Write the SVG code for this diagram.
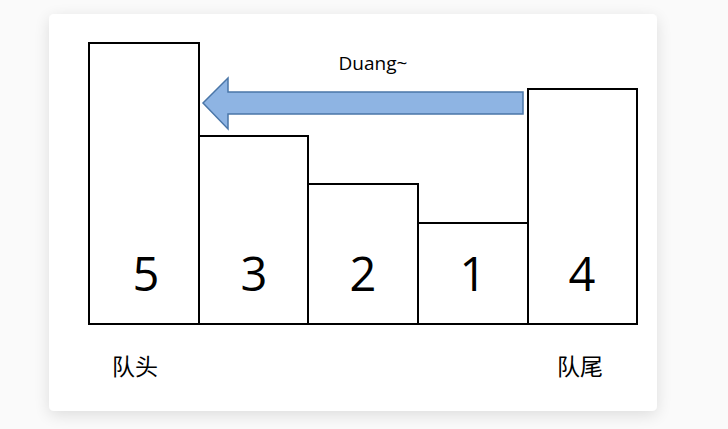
<svg xmlns="http://www.w3.org/2000/svg" width="728" height="429" viewBox="0 0 728 429">
<defs>
<filter id="sh" x="-10%" y="-10%" width="120%" height="125%">
<feGaussianBlur in="SourceAlpha" stdDeviation="8"/>
<feOffset dy="4"/>
<feComponentTransfer><feFuncA type="linear" slope="0.12"/></feComponentTransfer>
<feMerge><feMergeNode/><feMergeNode in="SourceGraphic"/></feMerge>
</filter>
<style>
.bar{fill:#fff;stroke:#000;stroke-width:2}
.num{font-family:"Open Sans","Liberation Sans",sans-serif;font-size:47px;text-anchor:middle;fill:#000}
.lbl{font-family:"Noto Sans CJK SC",sans-serif;font-size:23px;fill:#000}
</style>
</defs>
<rect width="728" height="429" fill="#fafafa"/>
<rect x="49" y="14" width="608" height="397" rx="5" fill="#fff" filter="url(#sh)"/>
<g id="bar5"><rect class="bar" x="89" y="43" width="110" height="281"/><text class="num" x="146" y="291">5</text></g>
<g id="bar3"><rect class="bar" x="199" y="136" width="109" height="188"/><text class="num" x="254" y="291">3</text></g>
<g id="bar2"><rect class="bar" x="308" y="184" width="110" height="140"/><text class="num" x="363" y="291">2</text></g>
<g id="bar1"><rect class="bar" x="418" y="223" width="110" height="101"/><text class="num" x="473" y="291">1</text></g>
<g id="bar4"><rect class="bar" x="528" y="89" width="109" height="235"/><text class="num" x="582" y="291">4</text></g>
<g id="connectors">
<polygon points="523,92 228,92 228,78 203,103 228,129 228,114 523,114" fill="#8EB4E3" stroke="#4A76A8" stroke-width="1.5"/>
<text x="373" y="70" font-family="Open Sans, Liberation Sans, sans-serif" font-size="19" text-anchor="middle">Duang~</text>
</g>
<text class="lbl" x="112" y="375">队头</text>
<text class="lbl" x="557" y="375">队尾</text>
</svg>
